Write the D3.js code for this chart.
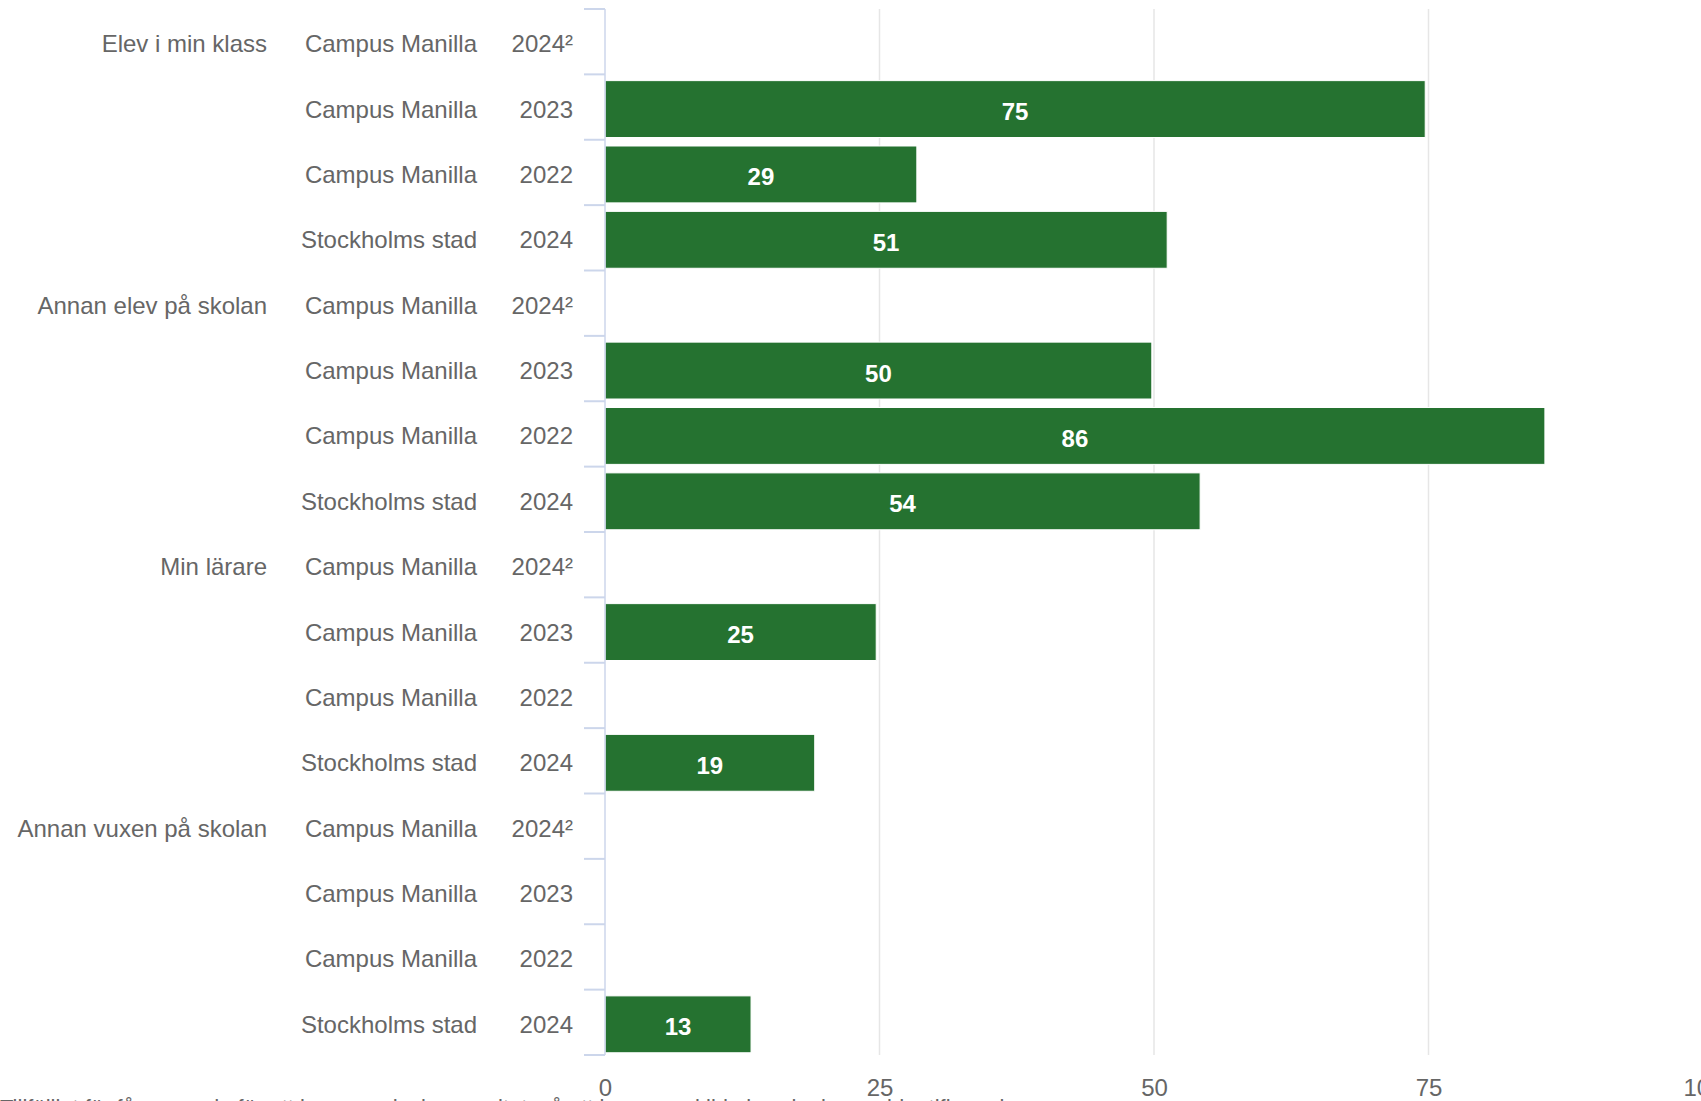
<!DOCTYPE html>
<html>
<head>
<meta charset="utf-8">
<script src="https://cdn.jsdelivr.net/npm/d3@7"></script>
<style>
    body { margin: 0; background: #ffffff; }
    svg { display: block; font-family: "Liberation Sans", Arial, Helvetica, sans-serif; }
</style>
</head>
<body>
<svg id="chart"></svg>
<script>
//Data från diagrammet
const groups = ["Elev i min klass", "Annan elev på skolan", "Min lärare", "Annan vuxen på skolan"];
const units = ["Campus Manilla", "Campus Manilla", "Campus Manilla", "Stockholms stad"];
const years = ["2024²", "2023", "2022", "2024"];
//Stapellängder
const values = [
    [null, 74.7, 28.4, 51.2],
    [null, 49.8, 85.6, 54.2],
    [null, 24.7, null, 19.1],
    [null, null, null, 13.3]
];
//Etiketter som står i staplarna
const value_labels = [
    [null, "75", "29", "51"],
    [null, "50", "86", "54"],
    [null, "25", null, "19"],
    [null, null, null, "13"]
];
const x_ticks = [0, 25, 50, 75, 100];
const caption = "Tillfälligt för få svarande för att kunna redovisa resultat, så att ingen enskild elev ska kunna identifieras i svaren";

const svg_width = 1701, svg_height = 1101;
const plot = { left: 605, right: 1703, top: 9, bottom: 1055 };
const text_color = "#666666";
const bar_color = "#257230";

const svg = d3.select("#chart")
    .attr("width", svg_width)
    .attr("height", svg_height);

//Platta ut raderna
const rows = [];
groups.forEach((g, gi) => {
    units.forEach((u, ui) => {
        rows.push({
            id: gi + "-" + ui,
            group: ui === 0 ? g : "",
            unit: u,
            year: years[ui],
            value: values[gi][ui],
            label: value_labels[gi][ui]
        });
    });
});

const x = d3.scaleLinear()
    .domain([0, 100])
    .range([plot.left, plot.right]);

const y = d3.scaleBand()
    .domain(rows.map(d => d.id))
    .range([plot.top + 2, plot.bottom + 2])
    .paddingInner(0.13)
    .paddingOuter(0.065);

const step = (plot.bottom - plot.top) / rows.length;

//Stödlinjer
svg.append("g")
    .selectAll("line")
    .data(x_ticks.filter(t => t > 0))
    .join("line")
    .attr("x1", d => x(d))
    .attr("x2", d => x(d))
    .attr("y1", plot.top)
    .attr("y2", plot.bottom)
    .attr("stroke", "#e6e6e6")
    .attr("stroke-width", 1.5);

//X-axelns etiketter
const x_axis = d3.axisBottom(x)
    .tickValues(x_ticks)
    .tickSize(0)
    .tickPadding(0);

svg.append("g")
    .attr("transform", `translate(0, ${plot.bottom + 24})`)
    .call(x_axis)
    .call(g => g.select(".domain").remove())
    .call(g => g.selectAll("text")
        .attr("fill", text_color)
        .attr("font-size", 24)
        .attr("dy", "0.71em"));

const bars = rows.filter(d => d.value !== null);

//Staplar
svg.append("g")
    .selectAll("rect")
    .data(bars)
    .join("rect")
    .attr("x", x(0))
    .attr("y", d => y(d.id))
    .attr("width", d => x(d.value) - x(0))
    .attr("height", y.bandwidth())
    .attr("fill", bar_color)
    .attr("stroke", "#ffffff")
    .attr("stroke-width", 1);

//Värdeetiketter
svg.append("g")
    .selectAll("text")
    .data(bars)
    .join("text")
    .attr("x", d => (x(0) + x(d.value)) / 2)
    .attr("y", d => y(d.id) + y.bandwidth() / 2 + 11)
    .attr("text-anchor", "middle")
    .attr("fill", "#ffffff")
    .attr("font-size", 24)
    .attr("font-weight", "bold")
    .text(d => d.label);

//Y-axelns linje och streck
const axis_g = svg.append("g");
axis_g.append("line")
    .attr("x1", plot.left)
    .attr("x2", plot.left)
    .attr("y1", plot.top)
    .attr("y2", plot.bottom)
    .attr("stroke", "#ccd6eb")
    .attr("stroke-width", 1.5);

axis_g.selectAll(".tick_mark")
    .data(d3.range(rows.length + 1))
    .join("line")
    .attr("class", "tick_mark")
    .attr("x1", plot.left - 21)
    .attr("x2", plot.left)
    .attr("y1", i => plot.top + i * step)
    .attr("y2", i => plot.top + i * step)
    .attr("stroke", "#ccd6eb")
    .attr("stroke-width", 2);

//Radetiketter i tre kolumner
const label_cols = [
    { key: "group", x: 267 },
    { key: "unit", x: 477 },
    { key: "year", x: 573 }
];

label_cols.forEach(col => {
    svg.append("g")
        .selectAll("text")
        .data(rows)
        .join("text")
        .attr("x", col.x)
        .attr("y", d => y(d.id) + y.bandwidth() / 2 + 8.5)
        .attr("text-anchor", "end")
        .attr("fill", text_color)
        .attr("font-size", 24)
        .text(d => d[col.key]);
});

//Fotnot, nästan helt utanför bilden
svg.append("text")
    .attr("x", 0)
    .attr("y", 1115)
    .attr("fill", text_color)
    .attr("font-size", 22)
    .text(caption);
</script>
</body>
</html>
